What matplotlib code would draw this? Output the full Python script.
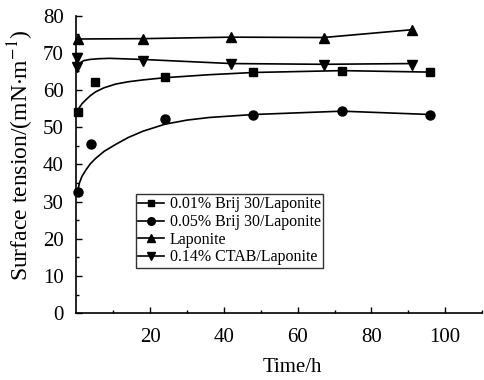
import numpy as np
import matplotlib
matplotlib.use("Agg")
import matplotlib.pyplot as plt
from matplotlib.ticker import MultipleLocator, FixedLocator

plt.rcParams['font.family'] = ['Liberation Serif', 'DejaVu Serif']
plt.rcParams['mathtext.fontset'] = 'stix'

# ---- data ----
sq_x = [0.3, 5, 24, 48, 72, 96]
sq_y = [54.1, 62.2, 63.5, 64.7, 65.2, 64.8]
ci_x = [0.3, 4, 24, 48, 72, 96]
ci_y = [32.5, 45.6, 52.2, 53.4, 54.3, 53.4]
up_x = [0.3, 18, 42, 67, 91]
up_y = [73.7, 73.8, 74.2, 74.1, 76.2]
dn_x = [0.2, 0.2, 18, 42, 67, 91]
dn_y = [68.5, 66.2, 67.8, 67.0, 66.6, 66.8]

# trend curves
sq_fit_x = [0.3, 0.8, 1.5, 2.5, 3.8, 5.2, 7.5, 10.7, 14, 18, 24, 36, 48, 72, 96]
sq_fit_y = [54.1, 55.3, 56.3, 57.3, 58.5, 59.5, 60.6, 61.6, 62.2, 62.7, 63.3, 64.1, 64.7, 65.2, 64.8]
ci_fit_x = [0.3, 0.8, 1.5, 2.5, 3.8, 5.2, 7.5, 10.7, 14, 18, 24, 30, 36, 48, 72, 96]
ci_fit_y = [32.6, 35.0, 36.8, 38.4, 40.2, 41.6, 43.5, 45.4, 47.2, 48.9, 50.8, 51.9, 52.6, 53.4, 54.3, 53.4]
up_fit_x = [0.3, 18, 42, 67, 91]
up_fit_y = [73.7, 73.8, 74.2, 74.1, 76.2]
dn_fit_x = [0.2, 1, 2, 3.6, 6, 9, 18, 42, 67, 91]
dn_fit_y = [66.4, 67.3, 67.9, 68.2, 68.4, 68.5, 68.2, 67.1, 66.9, 67.1]

labels = ['0.01% Brij 30/Laponite', '0.05% Brij 30/Laponite',
          'Laponite', '0.14% CTAB/Laponite']

fig = plt.figure(figsize=(4.84, 3.80), dpi=100)
ax = fig.add_axes([0.158, 0.176, 0.838, 0.783])

lw = 1.2
ax.plot(sq_fit_x, sq_fit_y, color='black', lw=lw)
ax.plot(ci_fit_x, ci_fit_y, color='black', lw=lw)
ax.plot(up_fit_x, up_fit_y, color='black', lw=lw)
ax.plot(dn_fit_x, dn_fit_y, color='black', lw=lw)

ax.plot(sq_x, sq_y, 's', color='black', ms=5.5, clip_on=False)
ax.plot(ci_x, ci_y, 'o', color='black', ms=6.5, clip_on=False)
ax.plot(up_x, up_y, '^', color='black', ms=7, clip_on=False)
ax.plot(dn_x, dn_y, 'v', color='black', ms=7, clip_on=False)

# legend handles
handles = [
    ax.plot([], [], '-s', color='black', lw=lw, ms=5)[0],
    ax.plot([], [], '-o', color='black', lw=lw, ms=5.5)[0],
    ax.plot([], [], '-^', color='black', lw=lw, ms=6)[0],
    ax.plot([], [], '-v', color='black', lw=lw, ms=6)[0],
]
leg = ax.legend(handles, labels, loc='upper left', bbox_to_anchor=(0.146, 0.400),
                fontsize=11.5, frameon=True, fancybox=False, edgecolor='black',
                borderpad=0.15, labelspacing=0.1, handlelength=1.6, handletextpad=0.4,
                borderaxespad=0)
leg.get_frame().set_linewidth(1.0)

ax.set_xlim(0, 110)
ax.set_ylim(0, 80)
ax.xaxis.set_major_locator(FixedLocator([20, 40, 60, 80, 100]))
ax.xaxis.set_minor_locator(FixedLocator([10, 30, 50, 70, 90, 110]))
ax.yaxis.set_major_locator(MultipleLocator(10))
ax.yaxis.set_minor_locator(MultipleLocator(5))

for s in ['top', 'right']:
    ax.spines[s].set_visible(False)
for s in ['left', 'bottom']:
    ax.spines[s].set_linewidth(1.2)

ax.tick_params(axis='both', which='major', direction='in', length=4, width=1.0, labelsize=15)
ax.tick_params(axis='both', which='minor', direction='in', length=2.5, width=1.0)
ax.tick_params(axis='y', which='major', pad=9)
ax.tick_params(axis='x', which='major', pad=11)

ax.set_xlabel('Time/h', fontsize=15)
ax.set_ylabel('Surface tension/(mN$\\cdot$m$^{-1}$)', fontsize=17)
ax.xaxis.set_label_coords(0.533, -0.150)
ax.yaxis.set_label_coords(-0.100, 0.531)

fig.savefig('out.png', dpi=100)
